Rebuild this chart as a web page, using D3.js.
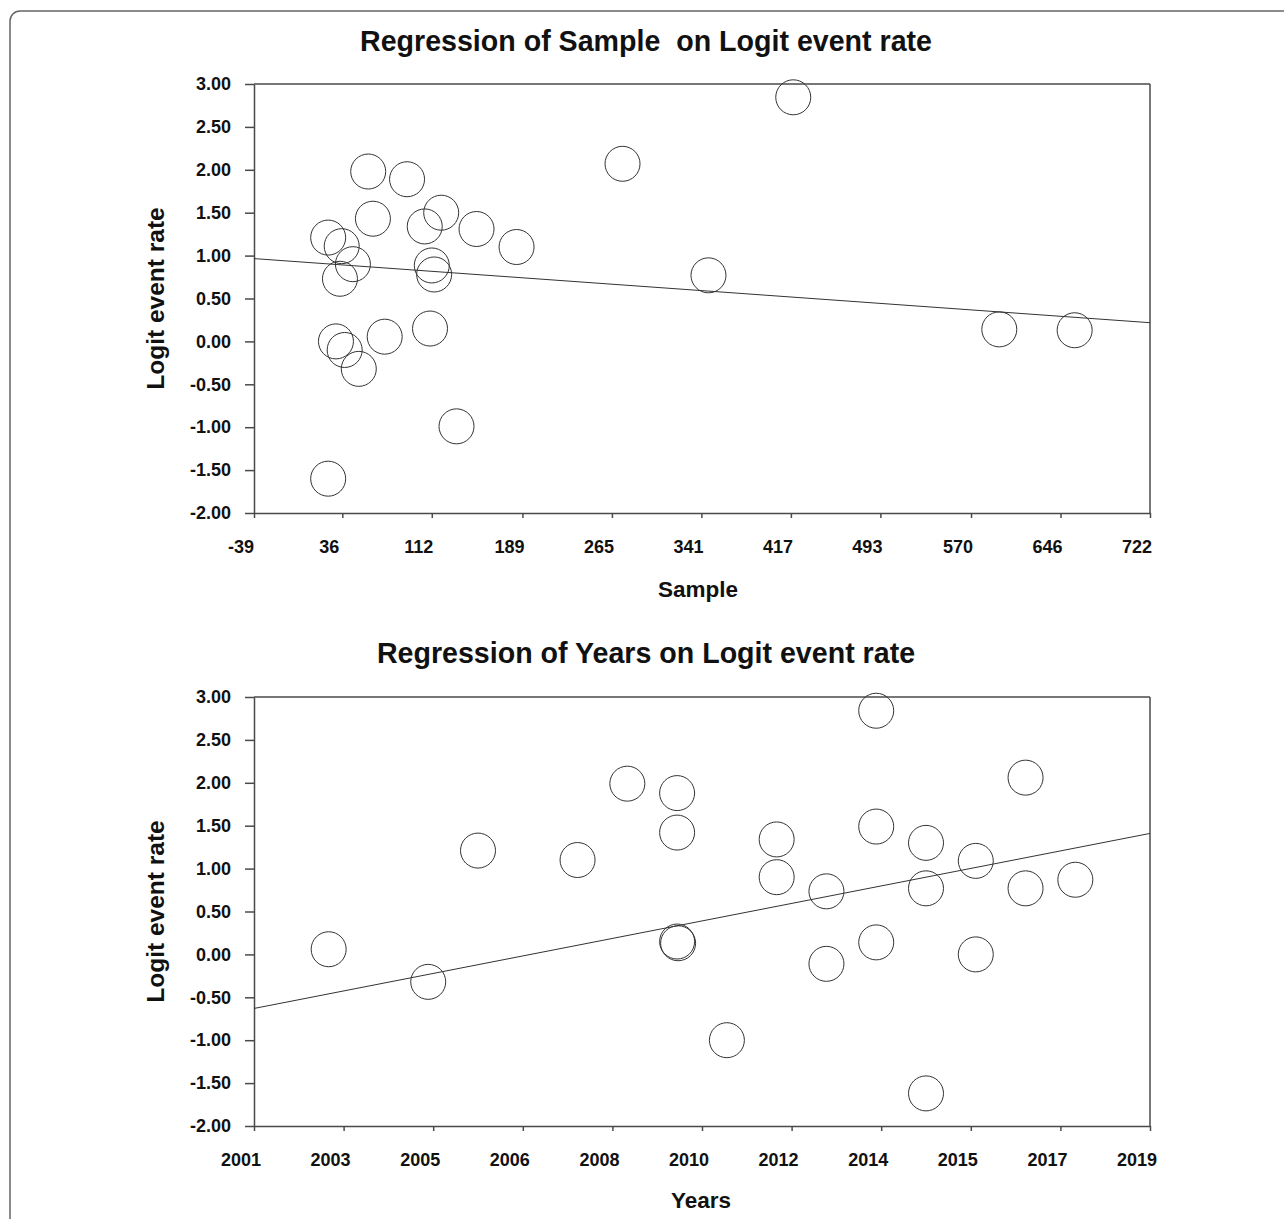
<!DOCTYPE html>
<html>
<head>
<meta charset="utf-8">
<script src="https://cdn.jsdelivr.net/npm/d3@7"></script>
<style>
  html, body { margin: 0; padding: 0; background: #fff; }
  svg { display: block; font-family: "Liberation Sans", Arial, Helvetica, sans-serif; }
</style>
</head>
<body>
<svg id="chart" width="1284" height="1219"></svg>
<script>
// ---------------- DATA ----------------
const logitTicks = [3, 2.5, 2, 1.5, 1, 0.5, 0, -0.5, -1, -1.5, -2];

// Panel 1: Sample vs Logit event rate
const sampleTicks = [-39, 36, 112, 189, 265, 341, 417, 493, 570, 646, 722];
const sampleValues = [24, 35.5, 45, 34, 58, 62, 91, 106, 120, 150, 184, 112, 114,
                      30.6, 38, 50, 72, 110.5, 133, 24, 274, 419, 347, 594, 658];
const sampleLogit  = [1.21, 1.11, 0.90, 0.73, 1.98, 1.43, 1.89, 1.34, 1.50, 1.31, 1.10, 0.885, 0.78,
                      0.00, -0.10, -0.32, 0.055, 0.15, -0.99, -1.60, 2.07, 2.845, 0.77, 0.14, 0.13];
const sampleFit = [[-39, 0.965], [722, 0.218]];

// Panel 2: Years vs Logit event rate
const yearTickValues = [2001, 2002.8, 2004.6, 2006.4, 2008.2, 2010, 2011.8, 2013.6, 2015.4, 2017.2, 2019];
const yearTickLabels = ["2001", "2003", "2005", "2006", "2008", "2010", "2012", "2014", "2015", "2017", "2019"];
const yearValues = [2002.5, 2004.5, 2005.5, 2007.5, 2008.5, 2009.5, 2009.5, 2009.5, 2009.52, 2010.5,
                    2011.5, 2011.5, 2012.5, 2012.5, 2013.5, 2013.5, 2013.5, 2014.5, 2014.5, 2014.5,
                    2015.5, 2015.5, 2016.5, 2016.5, 2017.5];
const yearLogit  = [0.06, -0.32, 1.21, 1.10, 1.99, 1.88, 1.42, 0.15, 0.13, -1.00,
                    1.34, 0.90, 0.735, -0.11, 2.84, 1.49, 0.14, 1.30, 0.77, -1.62,
                    1.09, 0.00, 2.06, 0.77, 0.87];
const yearFit = [[2001, -0.63], [2019, 1.41]];

// ---------------- DRAW ----------------
const svg = d3.select("#chart");
svg.append("rect").attr("width", 1284).attr("height", 1219).attr("fill", "#fff");
// outer frame (rounded, extends beyond the picture on right/bottom)
svg.append("rect")
  .attr("x", 10).attr("y", 11).attr("width", 1400).attr("height", 1400)
  .attr("rx", 10).attr("fill", "none").attr("stroke", "#666").attr("stroke-width", 1.5);

const AXIS_COLOR = "#4a4a4a";

function drawPanel(cfg) {
  const left = 254, right = 1150;
  const x = d3.scaleLinear().domain(cfg.xDomain).range([left, right]);
  const y = d3.scaleLinear().domain([-2, 3]).range([cfg.bottom, cfg.top]);
  const g = svg.append("g");

  // title
  g.append("text")
    .attr("x", 646).attr("y", cfg.titleY)
    .attr("text-anchor", "middle")
    .style("white-space", "pre")
    .attr("font-size", 28.6).attr("font-weight", "bold").attr("fill", "#111")
    .text(cfg.title);

  // top border & right border
  g.append("line").attr("x1", left).attr("x2", right).attr("y1", cfg.top).attr("y2", cfg.top)
    .attr("stroke", AXIS_COLOR).attr("stroke-width", 1.5);
  g.append("line").attr("x1", right).attr("x2", right).attr("y1", cfg.top).attr("y2", cfg.bottom)
    .attr("stroke", AXIS_COLOR).attr("stroke-width", 1.5);

  // y axis
  const ya = g.append("g").attr("transform", `translate(${left},0)`)
    .call(d3.axisLeft(y).tickValues(logitTicks).tickSize(9).tickSizeOuter(0).tickPadding(14)
      .tickFormat(d => d.toFixed(2)));
  // x axis
  const xa = g.append("g").attr("transform", `translate(0,${cfg.bottom})`)
    .call(d3.axisBottom(x).tickValues(cfg.xTicks).tickSize(5).tickSizeOuter(0).tickPadding(22)
      .tickFormat((d, i) => cfg.xLabels[i]));
  [ya, xa].forEach(a => {
    a.select(".domain").attr("stroke", AXIS_COLOR).attr("stroke-width", 1.5);
    a.selectAll(".tick line").attr("stroke", AXIS_COLOR).attr("stroke-width", 1.5);
    a.selectAll(".tick text").attr("fill", "#111").attr("font-size", 18)
      .attr("font-weight", "bold").attr("font-family", "'Liberation Sans', Arial, sans-serif");
  });
  xa.selectAll(".tick text").attr("dx", -13.5);

  // regression line
  g.append("line")
    .attr("x1", x(cfg.fit[0][0])).attr("y1", y(cfg.fit[0][1]))
    .attr("x2", x(cfg.fit[1][0])).attr("y2", y(cfg.fit[1][1]))
    .attr("stroke", "#333").attr("stroke-width", 1);

  // points
  g.append("g").selectAll("circle")
    .data(cfg.xs.map((v, i) => [v, cfg.ys[i]]))
    .join("circle")
    .attr("cx", d => x(d[0])).attr("cy", d => y(d[1])).attr("r", 17.5)
    .attr("fill", "none").attr("stroke", "#333").attr("stroke-width", 1);

  // x axis title
  g.append("text")
    .attr("x", cfg.xTitleX).attr("y", cfg.xTitleY).attr("text-anchor", "middle")
    .attr("font-size", 22.5).attr("font-weight", "bold").attr("fill", "#111")
    .text(cfg.xTitle);
  // y axis title
  g.append("text")
    .attr("transform", `translate(164,${(cfg.top + cfg.bottom) / 2}) rotate(-90)`)
    .attr("text-anchor", "middle")
    .attr("font-size", 24.5).attr("font-weight", "bold").attr("fill", "#111")
    .text("Logit event rate");
}

drawPanel({
  title: "Regression of Sample  on Logit event rate",
  titleY: 51,
  top: 84, bottom: 513,
  xDomain: [-39, 722],
  xTicks: sampleTicks,
  xLabels: sampleTicks.map(String),
  xs: sampleValues, ys: sampleLogit,
  fit: sampleFit,
  xTitle: "Sample", xTitleX: 698, xTitleY: 597
});

drawPanel({
  title: "Regression of Years on Logit event rate",
  titleY: 663,
  top: 697, bottom: 1126,
  xDomain: [2001, 2019],
  xTicks: yearTickValues,
  xLabels: yearTickLabels,
  xs: yearValues, ys: yearLogit,
  fit: yearFit,
  xTitle: "Years", xTitleX: 701, xTitleY: 1208
});
</script>
</body>
</html>
